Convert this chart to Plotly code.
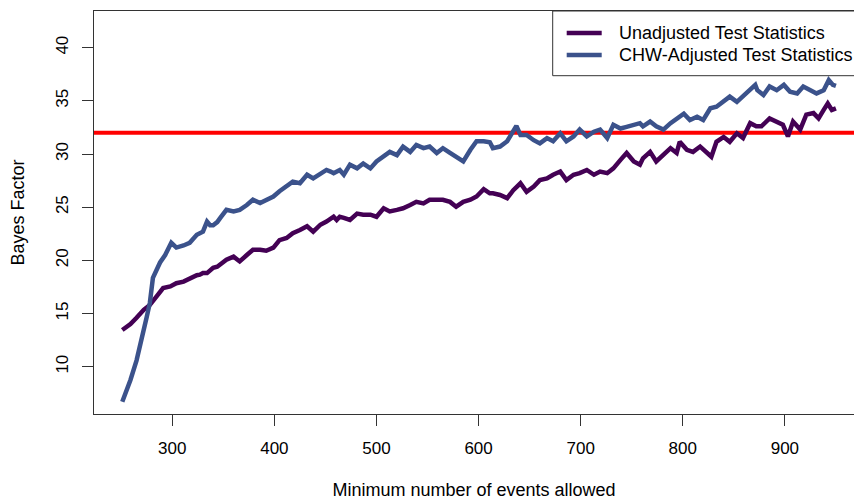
import plotly.graph_objects as go

# Minimum number of events allowed vs. Bayes factor, two test statistics
unadj_x = [251, 259, 265, 272, 278, 285, 291, 298, 304, 311, 317, 324, 327, 330, 334, 337, 340, 344,
           347, 353, 360, 366, 373, 379, 386, 392, 399, 405, 412, 418, 425, 432, 438, 445, 451, 458,
           461, 464, 468, 474, 481, 487, 494, 500, 507, 513, 520, 526, 533, 539, 546, 552, 559, 565,
           572, 578, 585, 592, 598, 605, 611, 614, 621, 628, 634, 641, 647, 654, 660, 667, 673, 680,
           686, 693, 699, 706, 713, 719, 726, 732, 739, 745, 752, 758, 761, 768, 774, 781, 788, 794,
           797, 804, 810, 817, 823, 828, 833, 840, 846, 853, 859, 866, 872, 877, 885, 892, 898, 903,
           908, 915, 921, 928, 933, 938, 942, 946, 950]
unadj_y = [13.45, 14.0, 14.6, 15.35, 15.8, 16.75, 17.4, 17.55, 17.85, 18.0, 18.3, 18.6, 18.65, 18.8,
           18.8, 19.1, 19.3, 19.4, 19.6, 20.05, 20.35, 19.9, 20.5, 21.0, 21.0, 20.9, 21.2, 21.9, 22.1,
           22.55, 22.85, 23.2, 22.7, 23.35, 23.65, 24.1, 23.8, 24.1, 24.0, 23.8, 24.4, 24.3, 24.3, 24.1,
           24.9, 24.6, 24.75, 24.9, 25.2, 25.5, 25.35, 25.7, 25.7, 25.7, 25.5, 25.05, 25.5, 25.7, 26.0,
           26.7, 26.3, 26.3, 26.15, 25.85, 26.6, 27.25, 26.45, 26.95, 27.55, 27.7, 28.05, 28.35, 27.55,
           28.05, 28.2, 28.5, 28.05, 28.35, 28.2, 28.65, 29.45, 30.1, 29.3, 29.0, 29.6, 30.2, 29.3,
           29.9, 30.55, 30.1, 31.15, 30.4, 30.2, 30.7, 30.1, 29.75, 31.15, 31.6, 31.15, 31.95, 31.5,
           32.9, 32.6, 32.6, 33.35, 33.05, 32.75, 31.65, 33.05, 32.3, 33.7, 33.85, 33.35, 34.15, 34.75,
           34.15, 34.3]

chw_x = [251, 259, 265, 272, 275, 278, 281, 288, 293, 299, 304, 311, 317, 324, 327, 330, 334, 337,
         340, 344, 347, 353, 360, 366, 373, 379, 386, 392, 399, 405, 412, 418, 425, 432, 438, 445,
         451, 455, 458, 464, 468, 474, 481, 487, 494, 500, 507, 513, 520, 526, 533, 539, 546, 552,
         559, 565, 572, 579, 585, 592, 598, 605, 611, 614, 621, 628, 634, 637, 641, 647, 654, 660,
         667, 673, 680, 686, 693, 699, 706, 713, 719, 726, 732, 739, 745, 752, 758, 761, 768, 774,
         781, 788, 794, 801, 807, 814, 820, 827, 833, 840, 846, 853, 859, 866, 871, 873, 876, 879,
         885, 892, 899, 905, 912, 918, 925, 931, 938, 943, 947, 950]
chw_y = [6.7, 8.75, 10.6, 13.2, 14.7, 16.0, 18.35, 19.8, 20.5, 21.65, 21.2, 21.4, 21.65, 22.4, 22.55,
         22.7, 23.65, 23.3, 23.3, 23.6, 24.0, 24.75, 24.6, 24.75, 25.2, 25.7, 25.4, 25.7, 26.0, 26.5,
         26.95, 27.4, 27.25, 28.05, 27.7, 28.2, 28.5, 28.35, 28.2, 28.5, 28.05, 29.0, 28.65, 29.1,
         28.65, 29.3, 29.75, 30.2, 29.9, 30.7, 30.2, 30.85, 30.55, 30.7, 30.1, 30.55, 30.1, 29.6, 29.3,
         30.4, 31.2, 31.2, 31.1, 30.55, 30.7, 31.2, 32.3, 32.65, 31.8, 31.8, 31.3, 31.0, 31.5, 31.2,
         31.95, 31.2, 31.65, 32.3, 31.65, 32.1, 32.3, 31.5, 32.75, 32.4, 32.55, 32.75, 32.9, 32.6,
         33.05, 32.6, 32.3, 32.9, 33.35, 33.8, 33.2, 33.5, 33.2, 34.3, 34.45, 34.9, 35.4, 34.9, 35.4,
         36.0, 36.5, 36.0, 35.7, 35.55, 36.35, 36.0, 36.5, 35.85, 35.7, 36.35, 36.0, 35.7, 36.0, 36.95,
         36.5, 36.4]

threshold = 32
series_names = ["Unadjusted Test Statistics", "CHW-Adjusted Test Statistics"]
series_colors = ["#440154", "#3B528B"]

x_ticks = [300, 400, 500, 600, 700, 800, 900]
y_ticks = [10, 15, 20, 25, 30, 35, 40]

FONT = "'Liberation Sans', Arial, sans-serif"
LINE_W = 4.5

W, H = 854, 500
M_L, M_R, M_T, M_B = 94, 0, 11, 86
PLOT_W, PLOT_H = W - M_L - M_R, H - M_T - M_B


def px_x(p):
    """Horizontal pixel position -> paper coordinate."""
    return (p - M_L) / PLOT_W


def px_y(p):
    """Vertical pixel position (from top) -> paper coordinate."""
    return (H - M_B - p) / PLOT_H


fig = go.Figure()
for xs, ys, name, color in [(unadj_x, unadj_y, series_names[0], series_colors[0]),
                            (chw_x, chw_y, series_names[1], series_colors[1])]:
    fig.add_trace(go.Scatter(x=xs, y=ys, mode="lines", name=name, showlegend=False,
                             line=dict(color=color, width=LINE_W)))

fig.add_hline(y=threshold, line=dict(color="#FF0000", width=4), layer="below")

# Legend box in the top-right corner (R-style, running off the right edge)
fig.add_shape(type="rect", xref="paper", yref="paper",
              x0=px_x(552.7), x1=px_x(920), y0=px_y(75.7), y1=px_y(11),
              line=dict(color="#333333", width=1), fillcolor="white", layer="above")
for i, (name, color) in enumerate(zip(series_names, series_colors)):
    ky = 33 + 22 * i
    fig.add_shape(type="line", xref="paper", yref="paper",
                  x0=px_x(566.7), x1=px_x(601.7), y0=px_y(ky), y1=px_y(ky),
                  line=dict(color=color, width=LINE_W), layer="above")
    fig.add_annotation(xref="paper", yref="paper", x=px_x(616.7), y=px_y(ky),
                       xanchor="left", yanchor="middle", text=name, showarrow=False,
                       font=dict(size=18, family=FONT, color="black"))

fig.update_layout(
    width=W, height=H,
    margin=dict(l=M_L, r=M_R, t=M_T, b=M_B, autoexpand=False),
    paper_bgcolor="white", plot_bgcolor="white",
    font=dict(family=FONT, size=17, color="black"),
    showlegend=False,
    xaxis=dict(range=[223.3, 967.7], tickvals=x_ticks, ticks="outside", ticklen=11,
               tickcolor="#333333", showline=True, linecolor="#333333", linewidth=1,
               mirror=True, showgrid=False, zeroline=False,
               title=dict(text="Minimum number of events allowed", standoff=29,
                          font=dict(size=18)),
               ticklabelstandoff=8),
    yaxis=dict(range=[5.55, 43.45], tickvals=y_ticks, ticks="outside", ticklen=11,
               tickcolor="#333333", showline=True, linecolor="#333333", linewidth=1,
               showgrid=False, zeroline=False, tickangle=-90,
               title=dict(text="Bayes Factor", standoff=23, font=dict(size=18)),
               ticklabelstandoff=7),
)

fig.write_html("out.html")
